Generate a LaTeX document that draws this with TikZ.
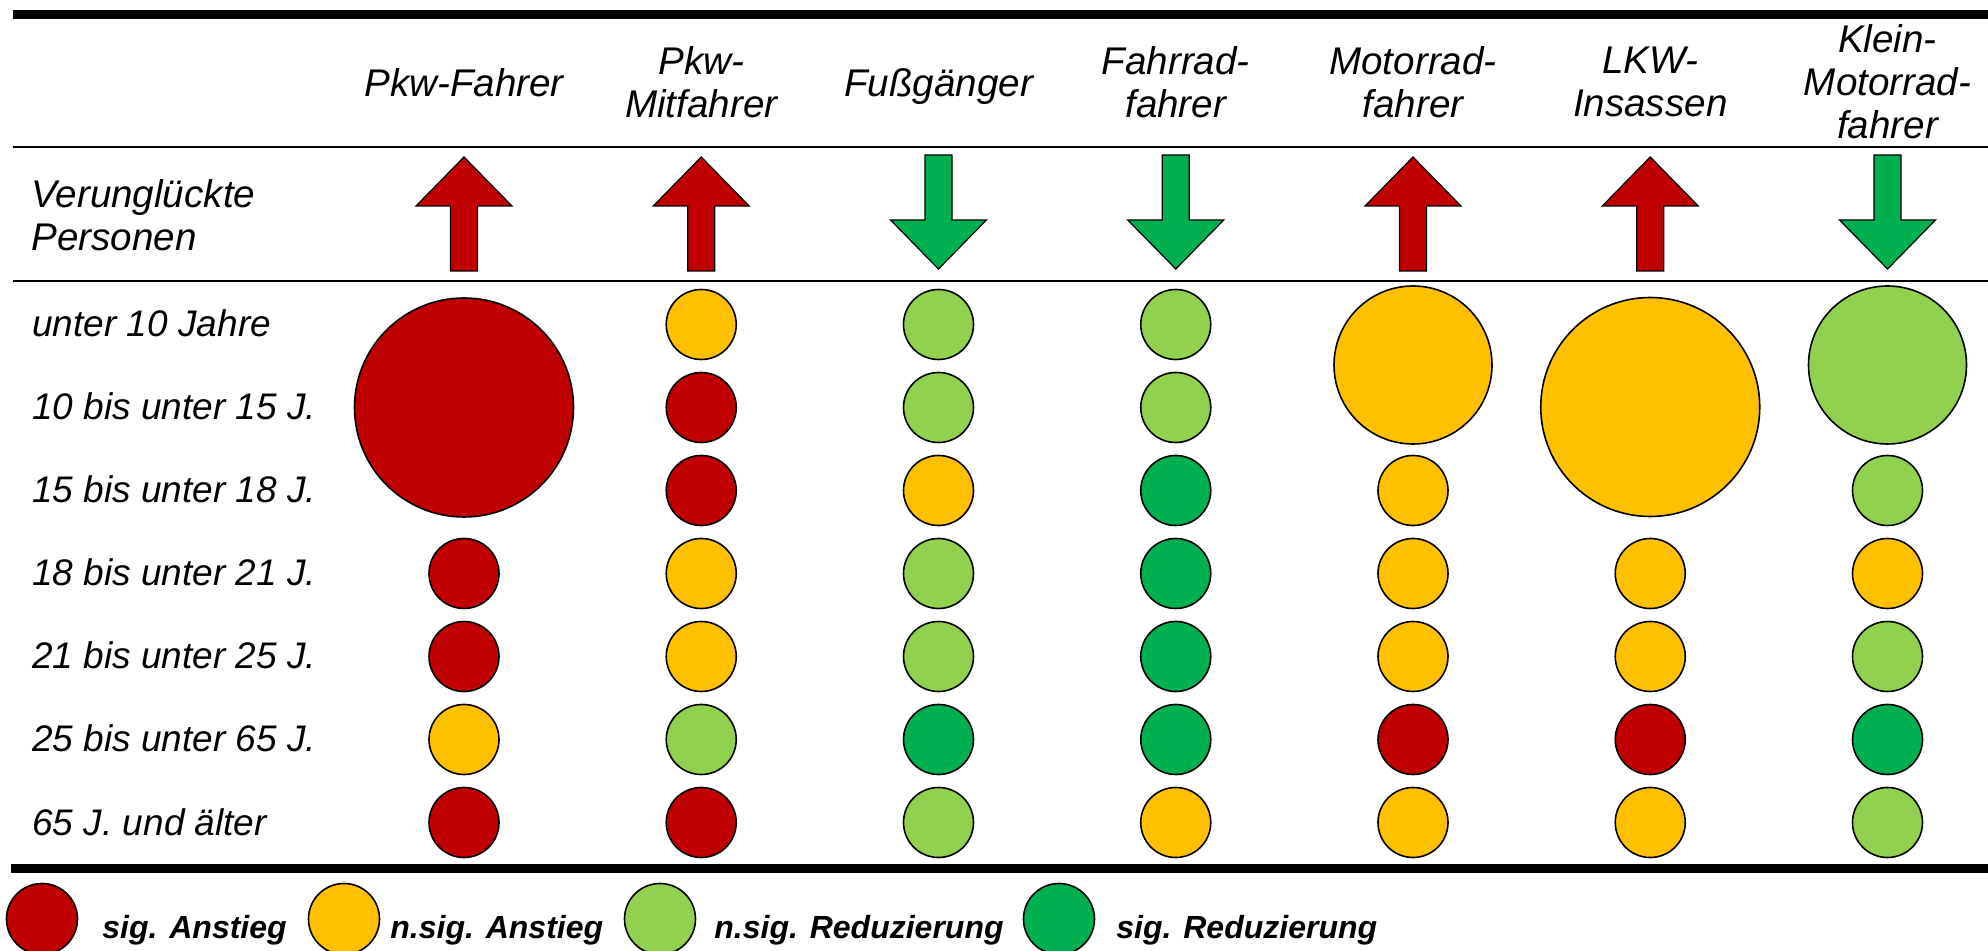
\documentclass[tikz,border=0pt]{standalone}
\usepackage{fontspec}
\setmainfont{Liberation Sans}
\definecolor{sigan}{HTML}{C00000}
\definecolor{nsigan}{HTML}{FFC000}
\definecolor{nsigred}{HTML}{92D050}
\definecolor{sigred}{HTML}{00B050}
\tikzset{
  hdr/.style={font=\fontsize{19.3}{21.5}\selectfont\itshape, align=center, inner sep=0pt, anchor=north},
  rowlab/.style={font=\fontsize{18.5}{21}\selectfont\itshape, inner sep=0pt, anchor=base west},
  leg/.style={font=\fontsize{16}{19}\selectfont\bfseries\itshape, inner sep=0pt, anchor=base west},
  dot/.style={circle, draw=black, line width=0.8pt, inner sep=0pt, minimum size=35pt},
  bigdot/.style={dot, minimum size=109.5pt},
  middot/.style={dot, minimum size=79pt},
  legdot/.style={dot, minimum size=35.5pt},
  thickrule/.style={line width=4.5pt},
  thinrule/.style={line width=1.25pt},
  arrowshape/.style={draw=black, line width=0.6pt, line join=miter},
  uparr/.pic={\draw[arrowshape, fill=sigan] (-13.5,271) -- (-13.5,206) -- (-48,206) -- (0,157) -- (48,206) -- (13.5,206) -- (13.5,271) -- cycle;},
  downarr/.pic={\draw[arrowshape, fill=sigred] (-13.5,155) -- (-13.5,220) -- (-48,220) -- (0,269) -- (48,220) -- (13.5,220) -- (13.5,155) -- cycle;}
}
\begin{document}
\begin{tikzpicture}[x=0.5pt,y=-0.5pt]
\useasboundingbox (0,0) rectangle (1988,951);

% rules
\coordinate (r1a) at (13,14.5);   \coordinate (r1b) at (1988,14.5);
\coordinate (r2a) at (13,147);    \coordinate (r2b) at (1988,147);
\coordinate (r3a) at (13,281);    \coordinate (r3b) at (1988,281);
\coordinate (r4a) at (11,868.5);  \coordinate (r4b) at (1988,868.5);
\draw[thickrule] (r1a) -- (r1b);
\draw[thinrule] (r2a) -- (r2b);
\draw[thinrule] (r3a) -- (r3b);
\draw[thickrule] (r4a) -- (r4b);

% column headers
\node[hdr] (h1) at (464,68.3) {Pkw-Fahrer};
\node[hdr] (h2) at (701.25,45.8) {Pkw-\\Mitfahrer};
\node[hdr] (h3) at (938.5,68.3) {Fußgänger};
\node[hdr] (h4) at (1175.75,46.3) {Fahrrad-\\fahrer};
\node[hdr] (h5) at (1413,46.3) {Motorrad-\\fahrer};
\node[hdr] (h6) at (1650.25,46.3) {LKW-\\Insassen};
\node[hdr] (h7) at (1887.5,24.3) {Klein-\\Motorrad-\\fahrer};

% trend row
\node[hdr, anchor=north west, align=left] (vp) at (31,179.6) {Verunglückte\\Personen};
\pic (a1) at (464,0) {uparr};
\pic (a2) at (701.25,0) {uparr};
\pic (a3) at (938.5,0) {downarr};
\pic (a4) at (1175.75,0) {downarr};
\pic (a5) at (1413,0) {uparr};
\pic (a6) at (1650.25,0) {uparr};
\pic (a7) at (1887.5,0) {downarr};

% row labels
\node[rowlab] (l1) at (32,337) {unter 10 Jahre};
\node[rowlab] (l2) at (32,420) {10 bis unter 15 J.};
\node[rowlab] (l3) at (32,503) {15 bis unter 18 J.};
\node[rowlab] (l4) at (32,586) {18 bis unter 21 J.};
\node[rowlab] (l5) at (32,669) {21 bis unter 25 J.};
\node[rowlab] (l6) at (32,752) {25 bis unter 65 J.};
\node[rowlab] (l7) at (32,835) {65 J. und älter};

% column 1: Pkw-Fahrer
\node[bigdot, fill=sigan] (c1b) at (464,407.5) {};
\node[dot, fill=sigan]  (c14) at (464,573.5) {};
\node[dot, fill=sigan]  (c15) at (464,656.5) {};
\node[dot, fill=nsigan] (c16) at (464,739.5) {};
\node[dot, fill=sigan]  (c17) at (464,822.5) {};

% column 2: Pkw-Mitfahrer
\node[dot, fill=nsigan]  (c21) at (701.25,324.5) {};
\node[dot, fill=sigan]   (c22) at (701.25,407.5) {};
\node[dot, fill=sigan]   (c23) at (701.25,490.5) {};
\node[dot, fill=nsigan]  (c24) at (701.25,573.5) {};
\node[dot, fill=nsigan]  (c25) at (701.25,656.5) {};
\node[dot, fill=nsigred] (c26) at (701.25,739.5) {};
\node[dot, fill=sigan]   (c27) at (701.25,822.5) {};

% column 3: Fussgaenger
\node[dot, fill=nsigred] (c31) at (938.5,324.5) {};
\node[dot, fill=nsigred] (c32) at (938.5,407.5) {};
\node[dot, fill=nsigan]  (c33) at (938.5,490.5) {};
\node[dot, fill=nsigred] (c34) at (938.5,573.5) {};
\node[dot, fill=nsigred] (c35) at (938.5,656.5) {};
\node[dot, fill=sigred]  (c36) at (938.5,739.5) {};
\node[dot, fill=nsigred] (c37) at (938.5,822.5) {};

% column 4: Fahrradfahrer
\node[dot, fill=nsigred] (c41) at (1175.75,324.5) {};
\node[dot, fill=nsigred] (c42) at (1175.75,407.5) {};
\node[dot, fill=sigred]  (c43) at (1175.75,490.5) {};
\node[dot, fill=sigred]  (c44) at (1175.75,573.5) {};
\node[dot, fill=sigred]  (c45) at (1175.75,656.5) {};
\node[dot, fill=sigred]  (c46) at (1175.75,739.5) {};
\node[dot, fill=nsigan]  (c47) at (1175.75,822.5) {};

% column 5: Motorradfahrer
\node[middot, fill=nsigan] (c5b) at (1413,365) {};
\node[dot, fill=nsigan] (c53) at (1413,490.5) {};
\node[dot, fill=nsigan] (c54) at (1413,573.5) {};
\node[dot, fill=nsigan] (c55) at (1413,656.5) {};
\node[dot, fill=sigan]  (c56) at (1413,739.5) {};
\node[dot, fill=nsigan] (c57) at (1413,822.5) {};

% column 6: LKW-Insassen
\node[bigdot, fill=nsigan] (c6b) at (1650.25,407) {};
\node[dot, fill=nsigan] (c64) at (1650.25,573.5) {};
\node[dot, fill=nsigan] (c65) at (1650.25,656.5) {};
\node[dot, fill=sigan]  (c66) at (1650.25,739.5) {};
\node[dot, fill=nsigan] (c67) at (1650.25,822.5) {};

% column 7: Klein-Motorradfahrer
\node[middot, fill=nsigred] (c7b) at (1887.5,365) {};
\node[dot, fill=nsigred] (c73) at (1887.5,490.5) {};
\node[dot, fill=nsigan]  (c74) at (1887.5,573.5) {};
\node[dot, fill=nsigred] (c75) at (1887.5,656.5) {};
\node[dot, fill=sigred]  (c76) at (1887.5,739.5) {};
\node[dot, fill=nsigred] (c77) at (1887.5,822.5) {};

% legend
\node[legdot, fill=sigan]   (k1) at (42,919) {};
\node[leg] (t1) at (102,938) {sig. Anstieg};
\node[legdot, fill=nsigan]  (k2) at (344,919) {};
\node[leg] (t2) at (390,938) {n.sig. Anstieg};
\node[legdot, fill=nsigred] (k3) at (660,919) {};
\node[leg] (t3) at (714,938) {n.sig. Reduzierung};
\node[legdot, fill=sigred]  (k4) at (1059,919) {};
\node[leg] (t4) at (1116,938) {sig. Reduzierung};
\end{tikzpicture}
\end{document}
